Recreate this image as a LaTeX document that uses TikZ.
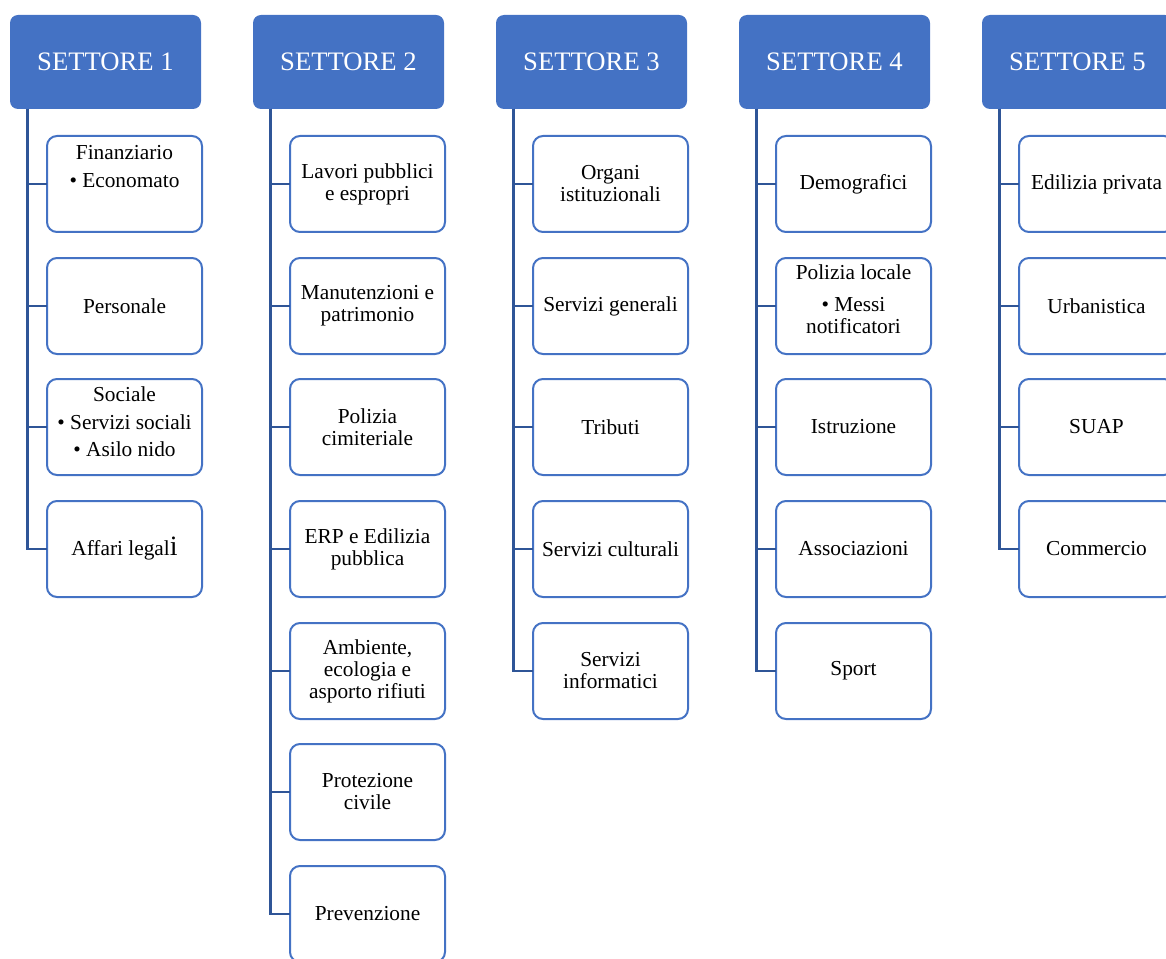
\documentclass[tikz,border=0pt]{standalone}
\usepackage{fontspec}
\setmainfont{Liberation Serif}
\usepackage{tikz}
\usetikzlibrary{positioning}
\definecolor{hdrblue}{RGB}{68,114,196}
\definecolor{lineblue}{RGB}{47,85,151}
\tikzset{hdr/.style={rectangle,rounded corners=6pt,fill=hdrblue,text=white,minimum width=143.25pt,minimum height=70.5pt,inner sep=0pt,outer sep=0pt,font=\fontsize{20}{24}\selectfont},sub/.style={rectangle,rounded corners=7.5pt,draw=hdrblue,line width=1.5pt,fill=white,minimum width=116.25pt,minimum height=72pt,inner sep=0pt,outer sep=0pt,align=center,font=\fontsize{16}{16.5}\selectfont},txt/.style={inner sep=0pt,align=center,font=\fontsize{16}{16.5}\selectfont}}
\tikzset{conn/.style={draw=lineblue,line width=1.9pt},tree/.style={to path={|- (\tikztotarget)}}}

\begin{document}
\begin{tikzpicture}[x=0.75pt,y=-0.75pt]
  \useasboundingbox (0,0) rectangle (1166,959);
  \node[hdr] (s1) at (105.5,62) {SETTORE 1};
  \node[hdr] (s2) at (348.5,62) {SETTORE 2};
  \node[hdr] (s3) at (591.5,62) {SETTORE 3};
  \node[hdr] (s4) at (834.5,62) {SETTORE 4};
  \node[hdr] (s5) at (1077.5,62) {SETTORE 5};
  \coordinate (t1) at (27.5,109);
  \coordinate (t2) at (270.5,109);
  \coordinate (t3) at (513.5,109);
  \coordinate (t4) at (756.5,109);
  \coordinate (t5) at (999.5,109);
  \node[sub] (s1a) at (124.5,184) {};
  \node[txt] (s1at) at (124.5,167) {Finanziario\\[4.5pt]\textbullet~Economato};
  \node[sub] (s1b) at (124.5,306) {Personale};
  \node[sub] (s1c) at (124.5,427) {};
  \node[txt] (s1ct) at (124.5,422) {Sociale\\[4.5pt]\textbullet~Servizi sociali\\[3.5pt]\textbullet~Asilo nido};
  \node[sub] (s1d) at (124.5,549) {Affari legal{\fontsize{21}{16.5}\selectfont i}};
  \node[sub] (s2a) at (367.5,184) {Lavori pubblici\\e espropri};
  \node[sub] (s2b) at (367.5,306) {Manutenzioni e\\patrimonio};
  \node[sub] (s2c) at (367.5,427) {Polizia\\cimiteriale};
  \node[sub] (s2d) at (367.5,549) {ERP e Edilizia\\pubblica};
  \node[sub] (s2e) at (367.5,671) {Ambiente,\\ecologia e\\asporto rifiuti};
  \node[sub] (s2f) at (367.5,792) {Protezione\\civile};
  \node[sub] (s2g) at (367.5,914) {Prevenzione};
  \node[sub] (s3a) at (610.5,184) {Organi\\istituzionali};
  \node[sub] (s3b) at (610.5,306) {Servizi generali};
  \node[sub] (s3c) at (610.5,427) {Tributi};
  \node[sub] (s3d) at (610.5,549) {Servizi culturali};
  \node[sub] (s3e) at (610.5,671) {Servizi\\informatici};
  \node[sub] (s4a) at (853.5,184) {Demografici};
  \node[sub] (s4b) at (853.5,306) {};
  \node[txt] (s4bt) at (853.5,299.5) {Polizia locale\\[7.5pt]\textbullet~Messi\\notificatori};
  \node[sub] (s4c) at (853.5,427) {Istruzione};
  \node[sub] (s4d) at (853.5,549) {Associazioni};
  \node[sub] (s4e) at (853.5,671) {Sport};
  \node[sub] (s5a) at (1096.5,184) {Edilizia privata};
  \node[sub] (s5b) at (1096.5,306) {Urbanistica};
  \node[sub] (s5c) at (1096.5,427) {SUAP};
  \node[sub] (s5d) at (1096.5,549) {Commercio};
  \draw[conn] (t1) edge[tree] (s1a.west) edge[tree] (s1b.west) edge[tree] (s1c.west) edge[tree] (s1d.west);
  \draw[conn] (t2) edge[tree] (s2a.west) edge[tree] (s2b.west) edge[tree] (s2c.west) edge[tree] (s2d.west)
    edge[tree] (s2e.west) edge[tree] (s2f.west) edge[tree] (s2g.west);
  \draw[conn] (t3) edge[tree] (s3a.west) edge[tree] (s3b.west) edge[tree] (s3c.west) edge[tree] (s3d.west)
    edge[tree] (s3e.west);
  \draw[conn] (t4) edge[tree] (s4a.west) edge[tree] (s4b.west) edge[tree] (s4c.west) edge[tree] (s4d.west)
    edge[tree] (s4e.west);
  \draw[conn] (t5) edge[tree] (s5a.west) edge[tree] (s5b.west) edge[tree] (s5c.west) edge[tree] (s5d.west);
\end{tikzpicture}
\end{document}
